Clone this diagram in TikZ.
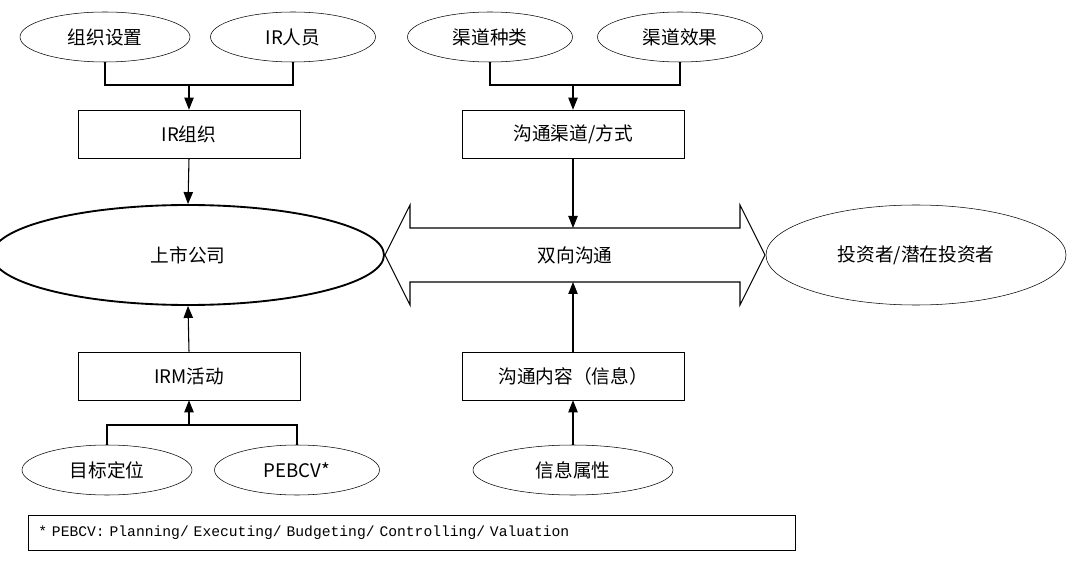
\documentclass[tikz,border=0pt]{standalone}
\usepackage{fontspec}
\setmainfont{Noto Sans CJK SC}
\newfontfamily\monof{Liberation Mono}
\usetikzlibrary{arrows.meta,shapes.geometric}
\begin{document}
\begin{tikzpicture}[x=0.75pt,y=-0.75pt,
  el/.style={draw,ellipse,minimum width={#1*0.75pt},minimum height=37.5pt,inner sep=0,font=\fontsize{14}{16}\selectfont},
  bx/.style={draw,rectangle,minimum width=166.5pt,minimum height=36pt,inner sep=0,font=\fontsize{14}{16}\selectfont},
  ln/.style={line width=0.8pt},
  ar/.style={ln,-{Triangle[length=9pt,width=7pt]}}]
\useasboundingbox (0,0) rectangle (1080,573);
\node[el=170] (zz) at (105,37) {组织设置};
\node[el=165] (ir) at (293,37) {IR人员};
\node[el=165] (qz) at (490,37) {渠道种类};
\node[el=165] (qx) at (680,37) {渠道效果};
\node[bx] (irz) at (189,134) {IR组织};
\node[bx] (gt) at (573,134) {沟通渠道/方式};
\node[draw,ellipse,line width=1.4pt,minimum width=294pt,minimum height=75pt,font=\fontsize{14}{16}\selectfont] (ss) at (188,255) {上市公司};
\node[draw,ellipse,minimum width=225pt,minimum height=75pt,font=\fontsize{14}{16}\selectfont] (tz) at (916,255) {投资者/潜在投资者};
\node[bx] (irm) at (189,376) {IRM活动};
\node[bx] (nr) at (573,376) {沟通内容（信息）};
\node[el=170] (mb) at (107,470) {目标定位};
\node[el=165] (pe) at (297,470) {PEBCV*};
\node[el=200] (xx) at (573,470) {信息属性};
% double arrow
\draw[ln] (385,255) -- (410,205) -- (410,228) -- (740,228) -- (740,205) -- (765,255) -- (740,305) -- (740,282) -- (410,282) -- (410,305) -- cycle;
\node[font=\fontsize{14}{16}\selectfont] (sx) at (575,255) {双向沟通};
\coordinate (datop) at (573,228);
\coordinate (dabot) at (573,282);
\coordinate (j1) at (189,85);
\draw[ln] (zz.south) -- (zz.south|-j1) -- (ir.south|-j1) -- (ir.south);
\draw[ar] (j1) -- (irz.north);
\draw[ar] (irz.south) -- (ss.north);
\coordinate (j2) at (573,85);
\draw[ln] (qz.south) -- (qz.south|-j2) -- (qx.south|-j2) -- (qx.south);
\draw[ar] (j2) -- (gt.north);
\draw[ar] (gt.south) -- (datop);
\draw[ar] (irm.north) -- (ss.south);
\coordinate (j3) at (189,425);
\draw[ln] (mb.north) -- (mb.north|-j3) -- (pe.north|-j3) -- (pe.north);
\draw[ar] (j3) -- (irm.south);
\draw[ar] (nr.north) -- (dabot);
\draw[ar] (xx.north) -- (nr.south);
\node[draw,anchor=west,minimum width=575pt,minimum height=26pt,inner sep=4pt,text width=560pt,font=\monof\fontsize{11}{13}\selectfont] (fn) at (28,533) {* PEBCV: Planning/ Executing/ Budgeting/ Controlling/ Valuation};
\end{tikzpicture}
\end{document}
